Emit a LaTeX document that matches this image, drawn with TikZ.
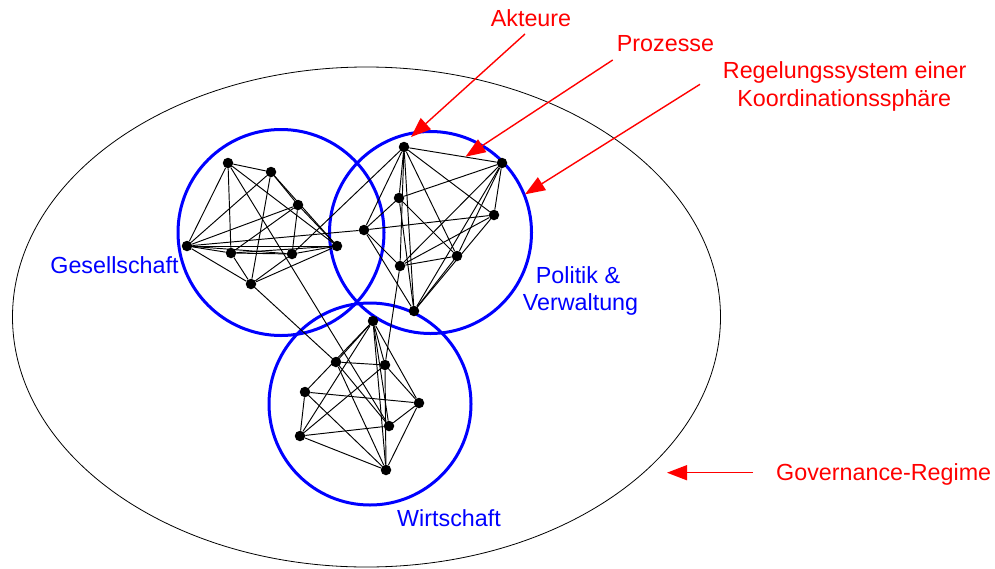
\documentclass[tikz,border=0pt]{standalone}
\usepackage{fontspec}
\setmainfont{Liberation Sans}
\usetikzlibrary{arrows.meta,shapes.geometric}
\begin{document}
\begin{tikzpicture}[x=1pt,y=-1pt,
  actor/.style={circle,fill=black,inner sep=0pt,minimum size=10.5pt},
  link/.style={draw=black,line width=0.95pt},
  sphere/.style={circle,draw=blue,line width=3pt,inner sep=0pt},
  regime/.style={ellipse,draw=black,line width=0.8pt,inner sep=0pt},
  bluelbl/.style={text=blue,font=\fontsize{23.3}{28}\selectfont,inner sep=0pt,anchor=base},
  redlbl/.style={text=red,font=\fontsize{23.3}{28}\selectfont,inner sep=0pt,anchor=base},
  pointer/.style={draw=red,line width=1.4pt,-{Triangle[length=20pt,width=15pt]}}]
\useasboundingbox (0,0) rectangle (995,568);

% outer governance regime
\node[regime,minimum width=708pt,minimum height=500pt] (regime) at (366.5,317) {};

% coordination spheres
\node[sphere,minimum size=206pt] (ges) at (281,232.5) {};
\node[sphere,minimum size=202pt] (pol) at (430.5,232.5) {};
\node[sphere,minimum size=202pt] (wir) at (370,404) {};

% actors Gesellschaft
\node[actor] (G1) at (228,163) {};
\node[actor] (G2) at (271,172) {};
\node[actor] (G3) at (298,205) {};
\node[actor] (G4) at (187,246) {};
\node[actor] (G5) at (231,253) {};
\node[actor] (G6) at (292,254) {};
\node[actor] (G7) at (337,246) {};
\node[actor] (G8) at (251,284) {};
% actors Politik & Verwaltung
\node[actor] (P1) at (404,147) {};
\node[actor] (P2) at (502,163) {};
\node[actor] (P3) at (399,198) {};
\node[actor] (P4) at (494,215) {};
\node[actor] (P5) at (364,230) {};
\node[actor] (P6) at (457,256) {};
\node[actor] (P7) at (400,266) {};
\node[actor] (P8) at (414,311) {};
% actors Wirtschaft
\node[actor] (W1) at (373,321) {};
\node[actor] (W2) at (336,362) {};
\node[actor] (W3) at (385,365) {};
\node[actor] (W4) at (305,392) {};
\node[actor] (W5) at (419,403) {};
\node[actor] (W6) at (389,426) {};
\node[actor] (W7) at (300,436) {};
\node[actor] (W8) at (386,470) {};

% processes
\foreach \a/\b in {G1/G2,G1/G4,G1/G5,G1/G7,G2/G3,G2/G4,G2/G7,G2/G8,G3/G4,G3/G5,G3/G6,G3/G7,
  G4/G5,G4/G6,G4/G7,G4/G8,G5/G6,G5/G7,G5/G8,G6/G7,G6/G8,G7/G8,
  P1/P2,P1/P3,P1/P4,P1/P5,P1/P6,P1/P7,P1/P8,P2/P3,P2/P4,P2/P6,P2/P7,P2/P8,
  P3/P5,P3/P6,P3/P8,P4/P5,P4/P7,P4/P8,P5/P7,P5/P8,P6/P7,P6/P8,
  W1/W2,W1/W3,W1/W4,W1/W5,W1/W6,W1/W7,W1/W8,W2/W3,W2/W6,W2/W8,W3/W5,W3/W7,W3/W8,
  W4/W5,W4/W7,W4/W8,W5/W6,W5/W8,W6/W7,W7/W8,
  G1/W6,G8/W2,G6/P1,G4/P5,P7/W3}
  \draw[link] (\a) -- (\b);

% sphere labels
\node[bluelbl] (lges) at (114.5,273.3) {Gesellschaft};
\node[bluelbl] (lpolA) at (578,283.3) {Politik \&};
\node[bluelbl] (lpolB) at (580.5,310) {Verwaltung};
\node[bluelbl] (lwir) at (449,526) {Wirtschaft};

% legend labels
\node[redlbl] (lakt) at (531,26.7) {Akteure};
\node[redlbl] (lpro) at (665.5,51.7) {Prozesse};
\node[redlbl] (lregA) at (844.7,78) {Regelungssystem einer};
\node[redlbl] (lregB) at (844.3,106.7) {Koordinationssphäre};
\node[redlbl,anchor=base west] (lgov) at (776,480.7) {Governance-Regime};

\coordinate (aktS) at (525,34);
\coordinate (aktT) at (411,137);
\coordinate (proS) at (612.7,60);
\coordinate (proT) at (465.5,156.7);
\coordinate (regS) at (700,84.3);
\coordinate (regT) at (525,194.3);
\coordinate (govS) at (753,472.7);
\coordinate (govT) at (667,472.7);
\draw[pointer] (aktS) -- (aktT);
\draw[pointer] (proS) -- (proT);
\draw[pointer] (regS) -- (regT);
\draw[pointer] (govS) -- (govT);
\end{tikzpicture}
\end{document}
